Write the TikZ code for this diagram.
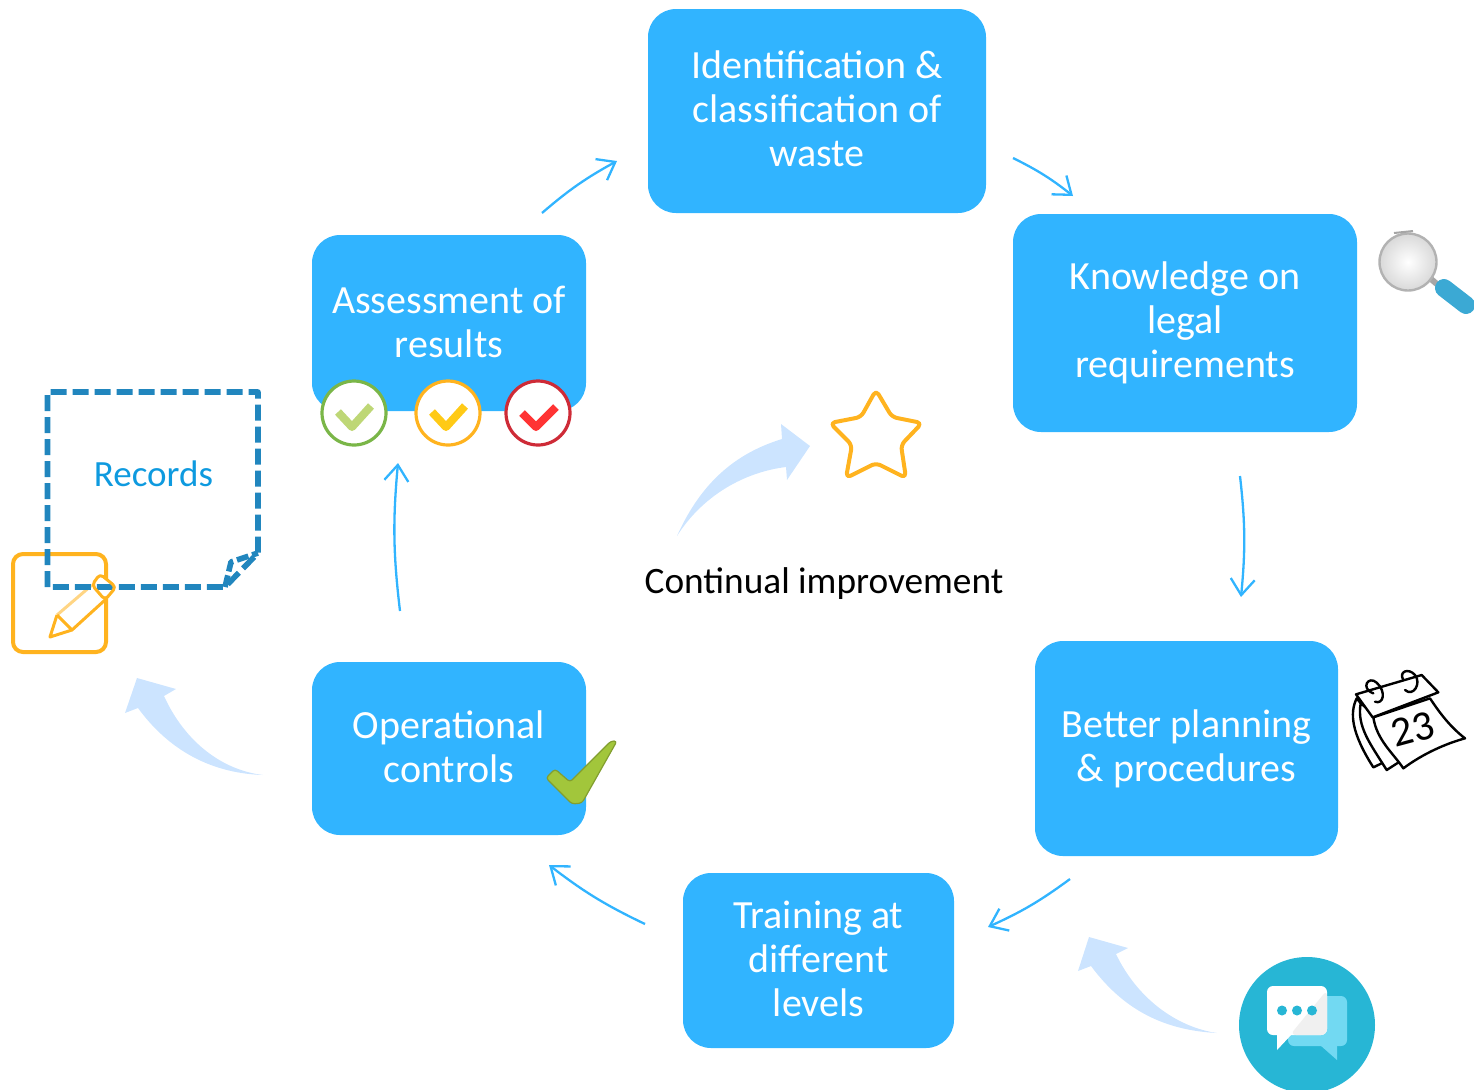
\documentclass[tikz,border=0pt]{standalone}
\usepackage{fontspec}
\setmainfont{Carlito}
\usetikzlibrary{calc,arrows.meta}
\definecolor{boxblue}{HTML}{31B4FF}
\definecolor{pale}{HTML}{CCE4FF}
\definecolor{notedash}{HTML}{2186BE}
\definecolor{recblue}{HTML}{0E9ADF}
\definecolor{amber}{HTML}{FFB31F}
\definecolor{chatbg}{HTML}{27B6D5}
\definecolor{chatlt}{HTML}{72D9F2}
\definecolor{lensblue}{HTML}{3BA9D4}
\definecolor{tickgreen}{HTML}{A2C63B}
\definecolor{ringgreen}{HTML}{7AB648}
\definecolor{ringred}{HTML}{CE2B37}
\tikzset{
  stagebox/.style={fill=boxblue,text=white,rounded corners=14pt,inner sep=0pt,outer sep=0pt,
    align=center,font=\fontsize{20}{22}\selectfont},
  conn/.style={draw=boxblue,line width=1.15pt,bend left=6,-{Straight Barb[length=8pt,width=12pt]}},
  palearrow/.style={fill=pale,draw=none},
  tickring/.style={fill=white,line width=1.6pt},
  tickmark/.style={line width=4pt,line join=round},
  calline/.style={draw=black,line width=1.2pt,line join=round,line cap=round,fill=white},
  plainlabel/.style={font=\fontsize{18.65}{22}\selectfont,inner sep=0pt}
}
\begin{document}
\begin{tikzpicture}[x=0.5pt,y=-0.5pt]
\useasboundingbox (0,0) rectangle (1474,1089);
\clip (0,0) rectangle (1474,1089);

% stages
\node[stagebox,minimum width=169pt,minimum height=102pt] (id) at (817,111) {Identification \&\\classification of\\waste\rule[-2pt]{0pt}{1pt}};
\node[stagebox,minimum width=172pt,minimum height=109pt] (know) at (1185,323) {Knowledge on\\legal\\requirements\rule[-1pt]{0pt}{1pt}};
\node[stagebox,minimum width=151.5pt,minimum height=107.5pt] (plan) at (1186.5,748.5) {Better planning\\\& procedures\rule[-1pt]{0pt}{1pt}};
\node[stagebox,minimum width=135.5pt,minimum height=87.5pt] (train) at (818.5,960.5) {Training at\\different\\levels\rule[-1.5pt]{0pt}{1pt}};
\node[stagebox,minimum width=137pt,minimum height=86.5pt] (oper) at (449,748.5) {Operational\\controls\rule[-1.5pt]{0pt}{1pt}};
\node[stagebox,minimum width=137pt,minimum height=88pt] (assess) at (449,323) {Assessment of\\results\rule[-1.5pt]{0pt}{1pt}};

% connectors
\draw[conn] ($(id.south east)+(27,-55)$) to ($(know.north west)+(60,-18)$);
\draw[conn] ($(know.south)+(55,44)$) to ($(plan.north)+(54.5,-44)$);
\draw[conn] ($(plan.south)+(-116.5,23)$) to ($(train.north east)+(34,54)$);
\draw[conn] ($(train.west)+(-38,-36.5)$) to ($(oper.south east)+(-37,30)$);
\draw[conn] ($(oper.north)+(-49,-51)$) to ($(assess.south)+(-51,52)$);
\draw[conn] ($(assess.north east)+(-44,-22)$) to ($(id.west)+(-31,50)$);

% tick rings on the assessment box
\draw[tickring,draw=ringgreen] (354,413) circle [radius=32];
\draw[tickmark,draw=tickgreen!70!white] (338,412) -- (352,427) -- (371,406);
\draw[tickring,draw=amber] (448,413) circle [radius=32];
\draw[tickmark,draw=amber!70!yellow] (432,412) -- (446,427) -- (465,406);
\draw[tickring,draw=ringred] (538,413) circle [radius=32];
\draw[tickmark,draw=red!80!white] (522,413) -- (536,427) -- (556,407);

% big tick
\fill[tickgreen,draw=tickgreen!80!black,line width=0.6pt,line join=round,rounded corners=1.5pt]
  (611,741) -- (617,741) -- (582,803) -- (572,804) -- (546,778) -- (555,769) -- (570,782) -- cycle;

% note pad and pencil
\draw[amber,line width=2pt,rounded corners=5pt] (13,554) rectangle (106,652);
\fill[white] (50,637) -- (57,615) -- (98,573) -- (116,587) -- (72,630) -- cycle;
\draw[amber!55!white,line width=1.5pt,line join=round] (57,615) -- (92,585);
\draw[amber,line width=1.5pt,line join=round] (57,615) -- (50,637) -- (72,630) -- (105,600);
\draw[amber,line width=1.5pt] (57,615) -- (72,630);

% records note
\draw[notedash,line width=2.8pt,dash pattern=on 8pt off 3pt,line join=round]
  (47.5,587) -- (47.5,392) -- (258,392) -- (258,553) -- (225,587) -- cycle;
\draw[notedash,line width=2.8pt,dash pattern=on 6pt off 2pt,line join=round]
  (225,587) -- (231,562) -- (258,553);
\node[inner sep=0pt,text=recblue,font=\fontsize{18.5}{22}\selectfont] (records) at (153.5,474) {Records};
\draw[amber,line width=1.5pt,line join=round,rounded corners=2pt] (92,585) -- (100,574) -- (116,587) -- (105,600) -- cycle;

% pale curved arrows
\fill[palearrow] (677,536) .. controls (703,478) and (740,452) .. (782,439) -- (781,424) -- (810,446) -- (787,480) -- (786,467) .. controls (745,472) and (703,495) .. cycle;
\fill[palearrow] (263,775) .. controls (222,770) and (185,742) .. (164,696) -- (176,689) -- (137,678) -- (125,713) -- (138,708) .. controls (165,745) and (205,773) .. cycle;
\fill[palearrow] (1217,1033) .. controls (1176,1027) and (1137,998) .. (1116,954) -- (1128,948) -- (1089,937) -- (1078,971) -- (1091,966) .. controls (1120,1005) and (1158,1030) .. cycle;

% star
\draw[amber,line width=2pt,line join=round,rounded corners=2.5pt]
  (876,390) -- (892,417) -- (922,423) -- (901,445) -- (906,478) -- (876,463) -- (846,478) -- (852,445) -- (830,423) -- (861,417) -- cycle;
\node[plainlabel,text=black] (improve) at (824,584) {Continual improvement};

% magnifier
\draw[gray!70,line width=3pt] (1431,279) -- (1438,285);
\draw[lensblue,line width=9pt,line cap=round] (1444,288) -- (1466,305);
\shade[inner color=white,outer color=gray!30,draw=gray!60,line width=1.2pt] (1408,262) circle [radius=28.5];
\draw[gray!70,line width=1pt] (1394,233) -- (1413,231);

% calendar
\begin{scope}[shift={(1340,660)},x=0.16667pt,y=-0.16667pt]
  \draw[calline] (50,115) .. controls (28,160) and (35,220) .. (100,322) -- (135,305) -- (120,200) -- cycle;
  \draw[calline] (62,130) .. controls (50,200) and (90,250) .. (140,330) -- (182,303) -- (150,200) -- cycle;
  \draw[calline] (100,172) .. controls (110,240) and (160,280) .. (190,325) .. controls (250,280) and (320,250) .. (375,235) .. controls (330,200) and (300,160) .. (270,115) -- cycle;
  \draw[calline] (48,103) -- (245,45) -- (295,97) -- (98,172) -- cycle;
  \draw[calline,fill=none] (100,100) .. controls (60,85) and (85,45) .. (110,68) .. controls (140,95) and (130,135) .. (105,125);
  \draw[calline,fill=none] (190,60) .. controls (175,35) and (205,22) .. (225,45) .. controls (245,70) and (220,112) .. (195,90);
  \node[rotate=15,inner sep=0pt,font=\fontsize{21}{21}\selectfont] (calnum) at (218,207) {23};
\end{scope}

% chat badge
\fill[chatbg] (1307,1025) circle [radius=68];
\fill[chatlt,rounded corners=3pt] (1288,1046) -- (1288,996) -- (1347,996) -- (1347,1046) -- cycle;
\fill[chatlt] (1320,1045) -- (1337,1060) -- (1337,1045) -- cycle;
\fill[white,rounded corners=3pt] (1267,986) rectangle (1327,1035);
\fill[white] (1277,1034) -- (1277,1050) -- (1292,1034) -- cycle;
\fill[black!6,rounded corners=3pt] (1327,990) -- (1327,1035) -- (1290,1035) -- cycle;
\fill[chatbg] (1282,1010.5) circle [radius=5];
\fill[chatbg] (1297,1010.5) circle [radius=5];
\fill[chatbg] (1312,1010.5) circle [radius=5];
\end{tikzpicture}
\end{document}
